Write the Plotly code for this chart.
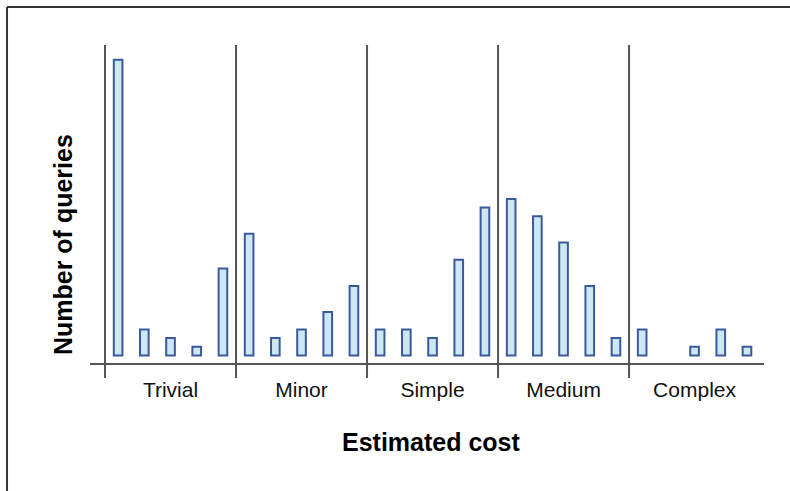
import plotly.graph_objects as go

categories = ["Trivial", "Minor", "Simple", "Medium", "Complex"]
trivial = [34, 3, 2, 1, 10]
minor = [14, 2, 3, 5, 8]
simple = [3, 3, 2, 11, 17]
medium = [18, 16, 13, 8, 2]
complex_ = [3, 0, 1, 3, 1]
groups = [trivial, minor, simple, medium, complex_]
x_title = "Estimated cost"
y_title = "Number of queries"

n_per = 5
xs, ys = [], []
for g, vals in enumerate(groups):
    for i, v in enumerate(vals):
        xs.append(g * n_per + i + 0.5)
        ys.append(v)

fig = go.Figure()
fig.add_trace(go.Bar(
    x=xs, y=ys, width=0.33,
    marker=dict(color="#cde7f5",
                line=dict(color="#3b5a9c", width=[0 if v == 0 else 2 for v in ys])),
    showlegend=False, hoverinfo="x+y",
))

shapes = []
for g in range(len(categories)):
    shapes.append(dict(type="line", xref="x", yref="paper", x0=g * n_per, x1=g * n_per,
                       y0=-0.047, y1=1, line=dict(color="#555555", width=2)))
# outer frame (left and top)
shapes.append(dict(type="line", xref="paper", yref="paper", x0=-0.1231, x1=-0.1231,
                   y0=-0.45, y1=1.1195, line=dict(color="#333333", width=2)))
shapes.append(dict(type="line", xref="paper", yref="paper", x0=-0.1231, x1=1.1,
                   y0=1.1195, y1=1.1195, line=dict(color="#333333", width=2)))

fig.update_layout(
    width=790, height=491,
    margin=dict(l=90, r=26, t=45, b=128),
    paper_bgcolor="white", plot_bgcolor="white",
    font=dict(family="Liberation Sans, Arial, sans-serif", color="#111111"),
    shapes=shapes,
    annotations=[
        dict(text=x_title, xref="paper", yref="paper", x=0.507, y=-0.248,
             xanchor="center", yanchor="middle", showarrow=False,
             font=dict(size=25, weight="bold", color="#000000")),
        dict(text=y_title, xref="paper", yref="paper", x=-0.040, y=0.371,
             xanchor="center", yanchor="middle", showarrow=False, textangle=-90,
             font=dict(size=25, weight="bold", color="#000000")),
    ],
)
fig.update_xaxes(
    range=[-0.573, 25.15], showgrid=False, zeroline=False,
    showline=True, linecolor="#555555", linewidth=2,
    tickvals=[g * n_per + n_per / 2 for g in range(len(categories))],
    ticktext=categories, ticks="", tickfont=dict(size=21, color="#111111"),
    ticklabelstandoff=7,
)
fig.update_yaxes(
    range=[-0.86, 35.69], showgrid=False, zeroline=False, showline=False,
    showticklabels=False, ticks="",
)
fig.write_html("out.html", post_script="document.body.style.margin='0';",
               config={"displayModeBar": False})
